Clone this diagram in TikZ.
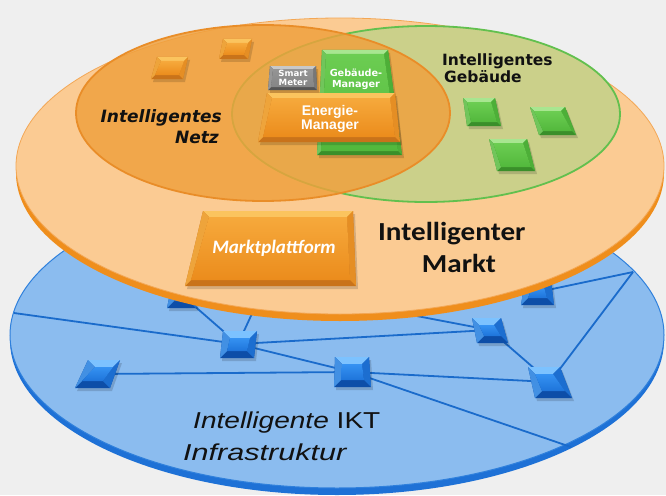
\documentclass[tikz,border=0pt]{standalone}
\usepackage{fontspec}
\setmainfont{Liberation Sans}
\newfontfamily\dejavu{DejaVu Sans}
\newfontfamily\carlito{Carlito}
\usetikzlibrary{calc}
\definecolor{bg}{HTML}{EFEFEF}
\definecolor{bluerim}{HTML}{1E71D6}
\definecolor{blueface}{HTML}{8BBCEF}
\definecolor{blueedge}{HTML}{2F80DC}
\definecolor{bline}{HTML}{1A6BCB}
\definecolor{orim}{HTML}{EF8E1C}
\definecolor{oface}{HTML}{FBCB93}
\definecolor{oedge}{HTML}{F3A755}
\definecolor{ncirc}{HTML}{F0A03C}
\definecolor{nline}{HTML}{E98D28}
\definecolor{gcirc}{HTML}{CBD08A}
\definecolor{gline}{HTML}{62C04E}
% bevel colours: l light top, s side, d dark bottom, t/b face gradient
\definecolor{obl}{HTML}{FBC45E}\definecolor{obs}{HTML}{E58E24}\definecolor{obd}{HTML}{C9731A}
\definecolor{obt}{HTML}{F6A93C}\definecolor{obb}{HTML}{EB8C1C}
\definecolor{gbl}{HTML}{A8E690}\definecolor{gbs}{HTML}{4DAF38}\definecolor{gbd}{HTML}{3A8F2A}
\definecolor{gbt}{HTML}{6CCD52}\definecolor{gbb}{HTML}{52B83C}
\definecolor{sbl}{HTML}{C8C8C8}\definecolor{sbs}{HTML}{777777}\definecolor{sbd}{HTML}{555555}
\definecolor{sbt}{HTML}{959595}\definecolor{sbb}{HTML}{858585}
\definecolor{bbl}{HTML}{7CC2FF}\definecolor{bbs}{HTML}{1C6ED0}\definecolor{bbd}{HTML}{0D4EA8}
\definecolor{bbt}{HTML}{3592F2}\definecolor{bbb}{HTML}{1E74DA}
\definecolor{txt}{HTML}{111111}
\newcommand\bevq[6]{%
  \coordinate (q1) at (#1); \coordinate (q2) at (#2);
  \coordinate (q3) at (#3); \coordinate (q4) at (#4);
  \coordinate (p1) at ($(q1)+(#5,#5)$);
  \coordinate (p2) at ($(q2)+(-#5,#5)$);
  \coordinate (p3) at ($(q3)+(-#5,-#5)$);
  \coordinate (p4) at ($(q4)+(#5,-#5)$);
  \fill[black,opacity=0.15] ($(q1)+(2,3)$)--($(q2)+(2,3)$)--($(q3)+(2,3)$)--($(q4)+(2,3)$)--cycle;
  \fill[#6d] (q1)--(q2)--(q3)--(q4)--cycle;
  \fill[#6l] (q1)--(q2)--(p2)--(p1)--cycle;
  \fill[#6s] (q2)--(q3)--(p3)--(p2)--cycle;
  \fill[#6s!60!#6l] (q1)--(p1)--(p4)--(q4)--cycle;
  \shade[top color=#6t, bottom color=#6b] (p1)--(p2)--(p3)--(p4)--cycle;
}
\tikzset{
  netline/.style={draw=bline, line width=1.8pt},
  lbl/.style={inner sep=0pt, text=txt},
  wlbl/.style={inner sep=0pt, text=white},
}
\begin{document}
\begin{tikzpicture}[x=1pt,y=-1pt]
\useasboundingbox (0,0) rectangle (666,495);
\fill[bg] (0,0) rectangle (666,495);
% ---------- blue disc ----------
\fill[bluerim] (337,340) ellipse [x radius=327pt, y radius=155pt];
\filldraw[fill=blueface, draw=blueedge, line width=1pt] (337,335) ellipse [x radius=327pt, y radius=153pt];
% network nodes (centres)
\coordinate (A) at (238,344);
\coordinate (B) at (98,374);
\coordinate (C) at (352,372);
\coordinate (D) at (490,330);
\coordinate (E) at (550,382);
\coordinate (F) at (538,292);
\coordinate (G) at (183,296);
\coordinate (H1) at (262,292);
\coordinate (H2) at (380,309);
\coordinate (L) at (14,313);
\coordinate (P) at (633,272);
\coordinate (Q) at (571,447);
\draw[netline] (L)--(A);
\draw[netline] (G)--(A);
\draw[netline] (A)--(H1);
\draw[netline] (A)--(D);
\draw[netline] (A)--(C);
\draw[netline] (B)--(C);
\draw[netline] (C)--(E);
\draw[netline] (C)--(Q);
\draw[netline] (D)--(E);
\draw[netline] (H2)--(D);
\draw[netline] (E)--(P);
\draw[netline] (F)--(P);
\bevq{223,331}{257,331}{254,358}{220,358}{7}{bb}
\bevq{88,360}{120,360}{110,388}{75,388}{7}{bb}
\bevq{335,357}{369,357}{371,387}{334,387}{7}{bb}
\bevq{472,318}{501,318}{508,343}{477,343}{7}{bb}
\bevq{528,367}{560,367}{572,398}{535,398}{7}{bb}
\bevq{525,280}{551,280}{554,305}{521,305}{7}{bb}
\bevq{172,283}{198,283}{196,308}{167,308}{7}{bb}
% ---------- orange disc ----------
\fill[orim] (340,173) ellipse [x radius=324pt, y radius=148pt];
\filldraw[fill=oface, draw=oedge, line width=0.8pt] (340,166) ellipse [x radius=324pt, y radius=148pt];
% circles
\filldraw[fill=gcirc, draw=gline, line width=1.8pt] (426,114) ellipse [x radius=194pt, y radius=88pt];
\filldraw[fill=ncirc, fill opacity=0.82, draw=nline, line width=1.8pt] (263,113) ellipse [x radius=187pt, y radius=88pt];
% small squares
\bevq{157,57}{188,57}{183,79}{151,79}{4}{ob}
\bevq{223,39}{252,39}{248,59}{219,59}{4}{ob}
\bevq{463,98}{495,98}{501,126}{467,126}{4}{gb}
\bevq{530,107}{565,107}{576,135}{539,135}{4}{gb}
\bevq{489,139}{527,139}{535,171}{497,171}{4}{gb}
% manager boxes
\bevq{322,50}{388,50}{402,155}{317,155}{4}{gb}
\bevq{270,66}{316,66}{317,90}{268,90}{3}{sb}
\bevq{267,93}{395,93}{400,142}{258,142}{5}{ob}
\bevq{203,211}{353,211}{356,286}{185,286}{6}{ob}
% ---------- texts ----------
\node[wlbl, anchor=base] (sm1) at (293,76) {\dejavu\bfseries\fontsize{8.6}{9}\selectfont Smart};
\node[wlbl, anchor=base] (sm2) at (293,85.5) {\dejavu\bfseries\fontsize{8.6}{9}\selectfont Meter};
\node[wlbl, anchor=base] (gm1) at (356,76) {\dejavu\bfseries\fontsize{9.7}{10}\selectfont Gebäude-};
\node[wlbl, anchor=base] (gm2) at (356,87.5) {\dejavu\bfseries\fontsize{9.7}{10}\selectfont Manager};
\node[wlbl, anchor=base] (em1) at (330,115) {\bfseries\fontsize{14}{14}\selectfont Energie-};
\node[wlbl, anchor=base] (em2) at (330,129.5) {\bfseries\fontsize{14}{14}\selectfont Manager};
\node[wlbl, anchor=base] (mp) at (274,253) {\carlito\bfseries\itshape\fontsize{19}{19}\selectfont Marktplattform};
\node[lbl, anchor=base east] (nz1) at (222,122) {\dejavu\bfseries\itshape\fontsize{17}{17}\selectfont Intelligentes};
\node[lbl, anchor=base east] (nz2) at (219,143) {\dejavu\bfseries\itshape\fontsize{17}{17}\selectfont Netz};
\node[lbl, anchor=base west] (gb1) at (442,65) {\dejavu\bfseries\fontsize{15.5}{16}\selectfont Intelligentes};
\node[lbl, anchor=base west] (gb2) at (444,82) {\dejavu\bfseries\fontsize{15.5}{16}\selectfont Gebäude};
\node[lbl, anchor=base west] (mk1) at (378,240) {\scalebox{1.12}[1]{\carlito\bfseries\fontsize{26}{26}\selectfont Intelligenter}};
\node[lbl, anchor=base] (mk2) at (459,272) {\scalebox{1.12}[1]{\carlito\bfseries\fontsize{26}{26}\selectfont Markt}};
\node[lbl, anchor=base west] (ik1) at (193,428) {\scalebox{1.22}[1]{\fontsize{23}{23}\selectfont\itshape Intelligente\upshape\ IKT}};
\node[lbl, anchor=base west] (ik2) at (183,460) {\scalebox{1.33}[1]{\fontsize{23}{23}\selectfont\itshape Infrastruktur}};
\end{tikzpicture}
\end{document}
